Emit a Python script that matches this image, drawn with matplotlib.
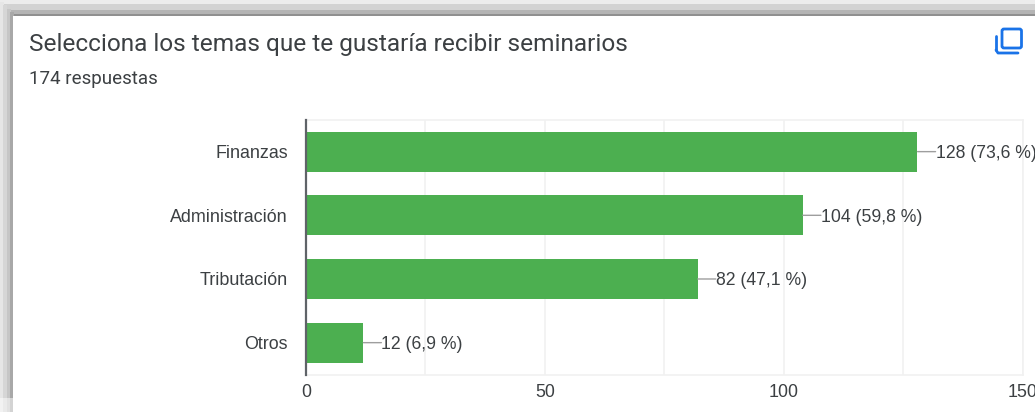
"""Seminarios: barras horizontales con etiquetas y marco de captura."""
import matplotlib
matplotlib.use("Agg")
import matplotlib.pyplot as plt
from matplotlib.patches import FancyBboxPatch, Rectangle

W, H = 1035, 412

categories = ["Finanzas", "Administración", "Tributación", "Otros"]
values = [128, 104, 82, 12]
percents = ["73,6", "59,8", "47,1", "6,9"]
x_ticks = [0, 50, 100, 150]
x_grid = [25, 50, 75, 100, 125, 150]

title = "Selecciona los temas que te gustaría recibir seminarios"
subtitle = "174 respuestas"

TEXT = "#3c4043"
GREEN = "#4caf50"
BLUE = "#1a73e8"

plt.rcParams["font.family"] = ["Liberation Sans", "DejaVu Sans"]

fig = plt.figure(figsize=(W / 100, H / 100), dpi=100, facecolor="white")

# capa de fondo en pixeles: sombra del marco, titulos e icono
bg = fig.add_axes([0, 0, 1, 1])
bg.set_xlim(0, W)
bg.set_ylim(H, 0)
bg.axis("off")

for y, h, col in [(0, 4, "#ececec"), (4, 6, "#d2d2d2"), (10, 4, "#b4b4b4"), (14, 2, "#909090")]:
    bg.add_patch(Rectangle((0, y), W, h, color=col, lw=0))
for x, col in [(0, "#e6e6e6"), (3, "#d6d6d6"), (7, "#c6c6c6"), (10, "#a8a8a8")]:
    bg.add_patch(Rectangle((x, x + 2), 4, H, color=col, lw=0))
bg.add_patch(Rectangle((0, 398), 13, 14, color="white", alpha=0.5, lw=0))
bg.add_patch(Rectangle((13, 16), W - 13, H - 16, color="white", lw=0))

bg.text(29, 44, title, fontsize=17.6, family="Roboto", color=TEXT, va="center", ha="left")
bg.text(29, 79, subtitle, fontsize=13.5, family="Roboto", color=TEXT, va="center", ha="left")

# icono de copiar
bg.add_patch(FancyBboxPatch((1002, 29), 19.5, 19, boxstyle="round,pad=0,rounding_size=2",
                            fill=False, ec=BLUE, lw=2))
bg.plot([996, 996], [36, 50], color=BLUE, lw=2, solid_capstyle="round")
bg.plot([996, 998, 1018], [50, 53, 53], color=BLUE, lw=2, solid_capstyle="round")

# grafico
ax = fig.add_axes([306 / W, 1 - 374.5 / H, (1022.6 - 306) / W, (374.5 - 119.8) / H])
ax.patch.set_alpha(0)
ypos = list(range(len(categories)))
ax.barh(ypos, values, height=0.625, color=GREEN, zorder=3)
ax.set_xlim(0, 150)
ax.set_ylim(len(categories) - 0.5, -0.5)

ax.set_yticks(ypos, categories)
ax.set_xticks(x_ticks)
ax.tick_params(axis="both", length=0, labelsize=12.9, labelcolor=TEXT)
ax.tick_params(axis="y", pad=13)
ax.tick_params(axis="x", pad=6.5)

for v in x_grid:
    ax.axvline(v, color="#f1f1f1", lw=1.2, zorder=1)
for side in ["top", "right", "bottom"]:
    ax.spines[side].set_color("#f1f1f1")
    ax.spines[side].set_linewidth(1.2)
ax.spines["left"].set_color("#5f6368")
ax.spines["left"].set_linewidth(1.6)
ax.spines["left"].set_zorder(5)

for i, (v, p) in enumerate(zip(values, percents)):
    # la linea va aparte para que quede horizontal
    ax.annotate("", xy=(v, i), xytext=(13, 0), textcoords="offset points", annotation_clip=False,
                arrowprops=dict(arrowstyle="-", color="#9e9e9e", lw=1, shrinkA=0, shrinkB=0))
    ax.annotate(f"{v} ({p} %)", xy=(v, i), xytext=(13, 0), textcoords="offset points",
                fontsize=12.7, color=TEXT, va="center_baseline", ha="left", annotation_clip=False)

fig.savefig("out.png", dpi=100)
